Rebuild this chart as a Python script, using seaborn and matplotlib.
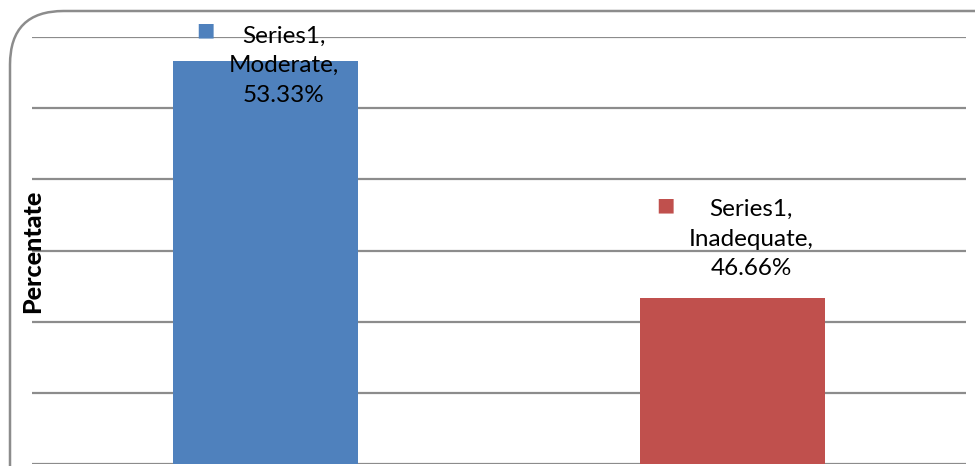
import matplotlib
matplotlib.use("Agg")
import matplotlib.pyplot as plt
from matplotlib.patches import FancyBboxPatch
import seaborn as sns
import pandas as pd

categories = ["Moderate", "Inadequate"]
values = [53.33, 46.66]
value_labels = ["53.33%", "46.66%"]
series_name = "Series1"
colors = ["#4F81BD", "#C0504D"]
y_label = "Percentate"
y_min, y_max, y_step = 42, 54, 2

sns.set_theme(style="white")
plt.rcParams["font.family"] = ["Lato", "DejaVu Sans"]

W, H, DPI = 975, 466, 100
fig = plt.figure(figsize=(W / DPI, H / DPI), dpi=DPI)
ax = fig.add_axes([32 / W, 1 - 464 / H, (966 - 32) / W, (464 - 37) / H])

df = pd.DataFrame({"cat": categories, "val": values})
sns.barplot(data=df, x="cat", y="val", hue="cat", palette=colors,
            width=0.396, legend=False, ax=ax, saturation=1, linewidth=0)

ax.set_ylim(y_min, y_max)
ax.set_xlim(-0.5, len(categories) - 0.5)
ax.set_yticks(range(y_min, y_max + 1, y_step))
ax.set_yticklabels([])
ax.set_xticks([])
ax.set_xlabel("")
ax.tick_params(left=False, bottom=False)
ax.yaxis.grid(True, color="#8c8c8c", linewidth=1.6)
ax.set_axisbelow(True)
for s in ax.spines.values():
    s.set_visible(False)

ax.set_ylabel("")
fig.text(33 / W, 1 - 251 / H, y_label, rotation=90, ha="center", va="center",
         fontsize=18, fontweight="black", color="black")

# data labels (offsets in pixels relative to bar top)
text_offsets = [(18.5, -5), (18.5, 59)]
square_offsets = [(-79, 36), (-86, 34.5)]
for i, (cat, v, lab) in enumerate(zip(categories, values, value_labels)):
    dx, dy = text_offsets[i]
    ax.annotate(f"{series_name},\n{cat},\n{lab}", xy=(i, v), xytext=(dx, dy),
                textcoords="offset pixels", ha="center", va="center",
                fontsize=17.5, linespacing=1.5, color="black",
                annotation_clip=False)
    sx, sy = square_offsets[i]
    ax.annotate("■", xy=(i, v), xytext=(dx + sx, dy + sy),
                textcoords="offset pixels", ha="center", va="center",
                fontsize=14, color=colors[i], annotation_clip=False,
                family=["DejaVu Sans"])

frame = FancyBboxPatch((10 / W, -0.2), 1.2, 1 - 11 / H + 0.2,
                       boxstyle="round,pad=0,rounding_size=0.055",
                       transform=fig.transFigure, facecolor="none",
                       edgecolor="#8c8c8c", linewidth=1.8, mutation_aspect=W / H)
fig.patches.append(frame)

fig.savefig("out.png", dpi=DPI)
